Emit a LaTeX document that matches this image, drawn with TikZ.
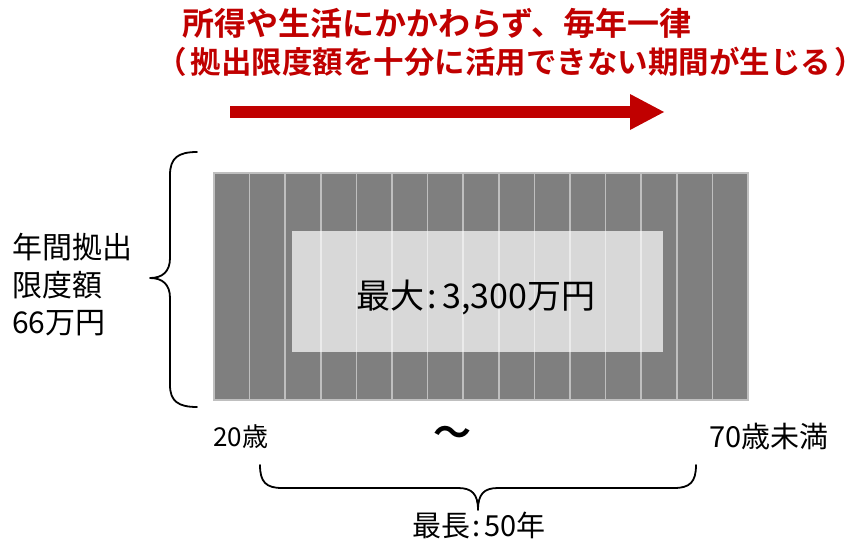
\documentclass[tikz,border=0pt]{standalone}
\usepackage{fontspec}
\setmainfont{Noto Sans CJK JP}[BoldFont={Noto Sans CJK JP Bold}]
\definecolor{barfill}{HTML}{7F7F7F}
\definecolor{barline}{HTML}{BFBFBF}
\definecolor{darkred}{HTML}{C00000}
\tikzset{
  bar/.style={fill=barfill, draw=barline, line width=1.6pt},
  inner/.style={fill=white, fill opacity=0.7, draw=none},
  bracestyle/.style={draw=black, line width=1.8pt, line cap=round, line join=round},
  lbl/.style={inner sep=0pt, text=black},
  title/.style={inner sep=0pt, text=darkred, font=\bfseries\fontsize{31}{36}\selectfont, anchor=west},
}
\begin{document}
\begin{tikzpicture}[x=1pt,y=-1pt]
\useasboundingbox (0,0) rectangle (851,541);
% title
\node[title, font=\bfseries\fontsize{32}{36}\selectfont] (t1) at (182,23) {所得や生活にかかわらず、毎年一律};
\node[title, font=\bfseries\fontsize{30.5}{36}\selectfont] (t2) at (156,62) {（\kern4pt 拠出限度額を十分に活用できない期間が生じる\kern3pt\makebox[12pt][l]{）}};
% arrow
\fill[darkred] (230,106) rectangle (631,118);
\fill[darkred] (630,94) -- (664,112) -- (630,130) -- cycle;
% bars
\foreach \i in {0,...,14}{
  \pgfmathsetmacro{\xa}{214+35.6*\i}
  \pgfmathsetmacro{\xb}{214+35.6*(\i+1)}
  \path[bar] (\xa,173) rectangle (\xb,400);
}
\path[inner] (292,231) rectangle (663,352);
\node[lbl, font=\fontsize{34}{40}\selectfont] (max) at (476,297) {最大\kern3pt:\kern5pt 3,300万円};
% left brace
\draw[bracestyle] (197,152) .. controls (178,152) and (170,158) .. (170,175) -- (170,258)
  .. controls (170,272) and (162,278) .. (150,278)
  .. controls (162,278) and (170,284) .. (170,298) -- (170,385)
  .. controls (170,401) and (178,407) .. (197,407);
\node[lbl, anchor=west, align=left, font=\fontsize{30}{37.5}\selectfont] (lim) at (12,285) {年間拠出\\限度額\\66万円};
% ages
\node[lbl, anchor=west, font=\fontsize{26}{30}\selectfont] (a20) at (213,437) {20歳};
\node[lbl, font=\bfseries\fontsize{38}{40}\selectfont] (tl) at (452,436) {～};
\node[lbl, anchor=west, font=\fontsize{29}{30}\selectfont] (a70) at (709,437) {70歳未満};
% bottom brace
\draw[bracestyle] (260,465) .. controls (260,482) and (266,488) .. (282,488) -- (458,488)
  .. controls (472,488) and (478,494) .. (478,510)
  .. controls (478,494) and (484,488) .. (498,488) -- (674,488)
  .. controls (690,488) and (696,482) .. (696,465);
\node[lbl, font=\fontsize{29}{30}\selectfont] (len) at (479,525) {最長\kern2pt:\kern4pt 50年};
\end{tikzpicture}
\end{document}
